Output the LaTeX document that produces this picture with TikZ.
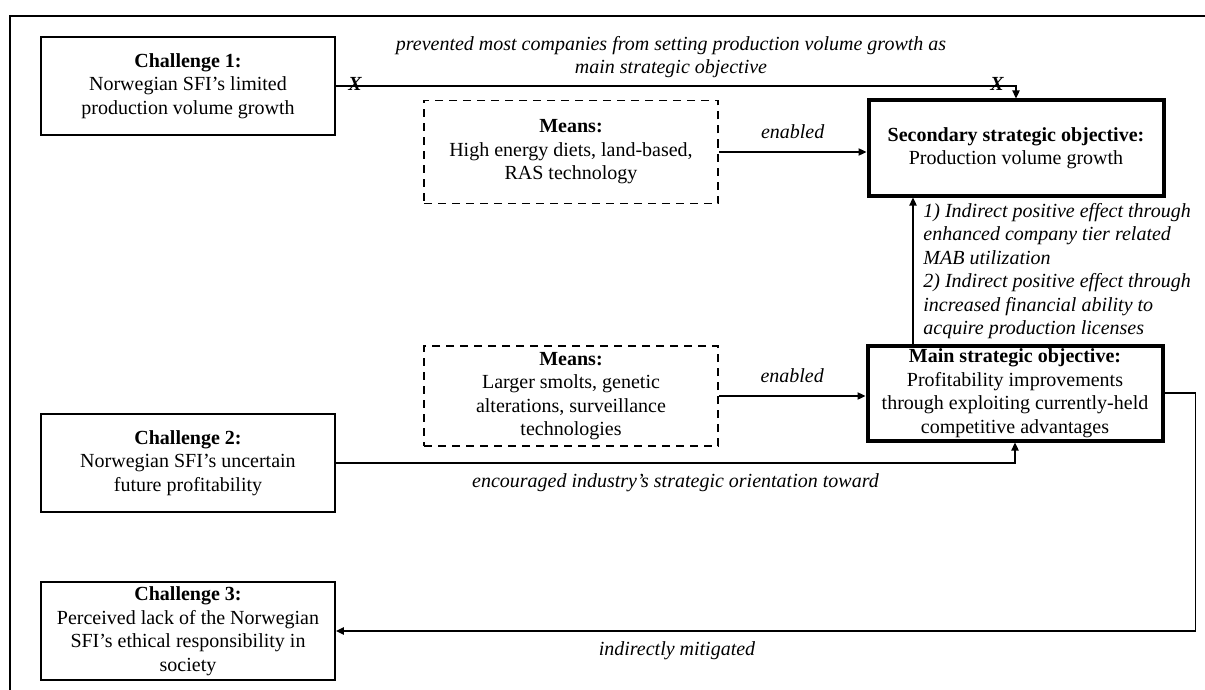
\documentclass[tikz,border=0pt]{standalone}
\usepackage{fontspec}
\setmainfont{Liberation Serif}
\usepackage{tikz}
\usetikzlibrary{arrows.meta,positioning,calc}
\newcommand{\figfont}{\fontsize{10pt}{11.75pt}\selectfont}

\begin{document}
\begin{tikzpicture}[
    x=0.5pt, y=-0.5pt,
    every node/.style={font=\figfont},
    challenge/.style={rectangle, draw, line width=0.9pt, minimum width=147pt, minimum height=49pt, align=center, inner sep=1pt},
    means/.style={rectangle, draw, dash pattern=on 4pt off 3pt, line width=0.9pt, minimum width=147pt, minimum height=50pt, align=center, inner sep=1pt},
    objective/.style={rectangle, draw, line width=2pt, minimum width=147.5pt, minimum height=47.5pt, align=center, inner sep=1pt},
    arrow/.style={-{Triangle[length=4pt, width=3.6pt]}, line width=0.8pt},
    annotation/.style={font=\figfont\itshape, align=center, inner sep=1pt},
    cross/.style={font=\figfont\bfseries\itshape, inner sep=0pt}
]
\useasboundingbox (0,0) rectangle (1205,690);

% Frame
\draw[line width=0.9pt] (10,690) -- (10,16) -- (1205,16);

% Challenges
\node[challenge] (chal1) at (188,86) {\textbf{Challenge 1:}\\Norwegian SFI's limited\\production volume growth};
\node[challenge] (chal2) at (188,463) {\textbf{Challenge 2:}\\Norwegian SFI's uncertain\\future profitability};
\node[challenge] (chal3) at (188,631) {\textbf{Challenge 3:}\\Perceived lack of the Norwegian\\SFI's ethical responsibility in\\society};

% Means
\node[means, minimum height=51.5pt] (means1) at (571,152) {\textbf{Means:}\\High energy diets, land-based,\\RAS technology};
\node[means] (means2) at (571,396) {\textbf{Means:}\\Larger smolts, genetic\\alterations, surveillance\\technologies};

% Objectives
\node[objective] (sec) at (1016,148) {\textbf{Secondary strategic objective:}\\Production volume growth};
\node[objective] (main) at (1015,393) {\textbf{Main strategic objective:}\\Profitability improvements\\through exploiting currently-held\\competitive advantages};

% Challenge 1 blocked path
\draw[arrow] (chal1.east) -- (chal1.east -| sec.north) -- (sec.north);
\node[cross] (x1) at (355,84) {X};
\node[cross] (x2) at (997,84) {X};
\node[annotation] (prevent) at (671,57) {prevented most companies from setting production volume growth as\\main strategic objective};

% Means arrows
\draw[arrow] (means1.east) -- node[annotation, above=5pt] (enab1) {enabled} (means1.east -| sec.west);
\draw[arrow] (means2.east) -- node[annotation, above=5pt] (enab2) {enabled} (means2.east -| main.west);

% Challenge 2 to main objective
\draw[arrow] (chal2.east) -- node[annotation, below=4pt] (encour) {encouraged industry's strategic orientation toward} (chal2.east -| main.south) -- (main.south);

% Main to secondary
\draw[arrow] ([xshift=-51pt]main.north) -- ([xshift=-51pt]main.north |- sec.south);
\node[annotation, align=left, anchor=west] (effect) at (921,271) {1) Indirect positive effect through\\enhanced company tier related\\MAB utilization\\2) Indirect positive effect through\\increased financial ability to\\acquire production licenses};

% Main to challenge 3
\draw[arrow] (main.east) -- ++(31,0) |- (chal3.east);
\node[annotation] (mitig) at (677,651) {indirectly mitigated};
\end{tikzpicture}
\end{document}
